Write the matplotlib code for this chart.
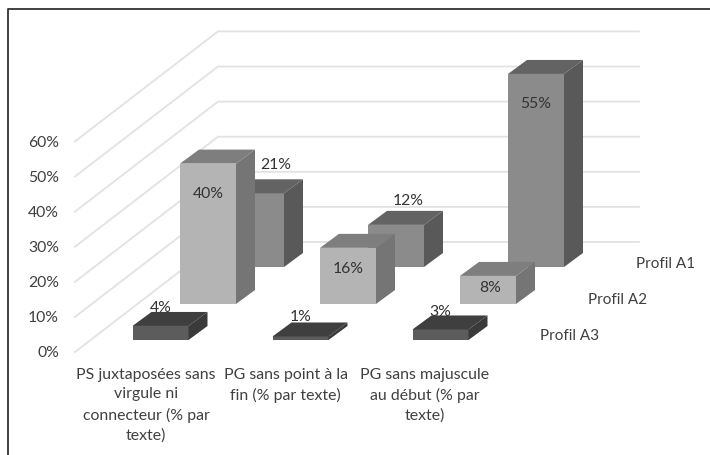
import matplotlib
matplotlib.use("Agg")
import matplotlib.pyplot as plt

categories = [
    "PS juxtaposées sans\nvirgule ni\nconnecteur (% par\ntexte)",
    "PG sans point à la\nfin (% par texte)",
    "PG sans majuscule\nau début (% par\ntexte)",
]
series_names = ["Profil A1", "Profil A2", "Profil A3"]
profil_a1 = [21, 12, 55]
profil_a2 = [40, 16, 8]
profil_a3 = [4, 1, 3]
y_ticks = [0, 10, 20, 30, 40, 50, 60]

# offsets of the value labels from the top centre of the front face
a1_label_offsets = [(20, -29), (12, -25), (0, 29)]
a2_label_offsets = [(0, 29), (0, 20), (2, 11)]
a3_label_offsets = [(0, -19), (0, -20), (0, -18)]

# geometry of the fake 3d view, in pixels
px_per_percent = 3.51
bar_width = 56
bar_dx, bar_dy = 19, -14
first_x = [228, 180, 132.5]
base_y = [268, 305, 341]
cat_step = 140
wall_dx, wall_dy = 143, -110
wall_right = 639
front_left, front_zero = 75, 353

front_colors = ["#8b8b8b", "#b4b4b4", "#5c5c5c"]
top_colors = ["#636363", "#7e7e7e", "#3f3f3f"]
side_colors = ["#595959", "#757575", "#3a3a3a"]
text_color = "#404040"

plt.rcParams["font.family"] = "Lato"

fig = plt.figure(figsize=(7.1, 4.56), dpi=100)
ax = fig.add_axes([0, 0, 1, 1])
ax.set_xlim(0, 710)
ax.set_ylim(456, 0)
ax.axis("off")

# frame, only the top and left sides show
ax.plot([8, 8, 710], [456, 10, 10], color="#333333", lw=1.3)

# gridlines going back then along the wall
for t in y_ticks:
    y = front_zero - t * px_per_percent
    ax.plot([front_left, front_left + wall_dx, wall_right],
            [y, y + wall_dy, y + wall_dy], color="#e2e2e2", lw=1.3, zorder=1)
    ax.text(59, y + 0.5, f"{t}%", ha="right", va="center", fontsize=11.3, color=text_color)


def draw_bar(x, base, value, row):
    top = base - value * px_per_percent
    r = x + bar_width
    ax.fill([x, r, r, x], [base, base, top, top], color=front_colors[row], lw=0, zorder=2)
    ax.fill([x, r, r + bar_dx, x + bar_dx], [top, top, top + bar_dy, top + bar_dy],
            color=top_colors[row], lw=0, zorder=2)
    ax.fill([r, r + bar_dx, r + bar_dx, r], [base, base + bar_dy, top + bar_dy, top],
            color=side_colors[row], lw=0, zorder=2)
    return top


# back row first so the front rows cover it
rows = [profil_a1, profil_a2, profil_a3]
offsets = [a1_label_offsets, a2_label_offsets, a3_label_offsets]
labels = []
for row, values in enumerate(rows):
    for i, v in enumerate(values):
        x = first_x[row] + i * cat_step
        top = draw_bar(x, base_y[row], v, row)
        dx, dy = offsets[row][i]
        labels.append((x + bar_width / 2 + dx, top + dy, f"{v}%"))

for x, y, s in labels:
    ax.text(x, y, s, ha="center", va="center", fontsize=11.3, color="#333333", zorder=3)

# category labels
for i, name in enumerate(categories):
    ax.text(146 + i * 139.5, 368, name, ha="center", va="top", fontsize=11.4,
            color=text_color, linespacing=1.5)

# series labels on the right
for i, name in enumerate(series_names):
    ax.text(636 - i * 48, 264 + i * 36, name, ha="left", va="center", fontsize=11, color=text_color)

fig.savefig("out.png", dpi=100)
